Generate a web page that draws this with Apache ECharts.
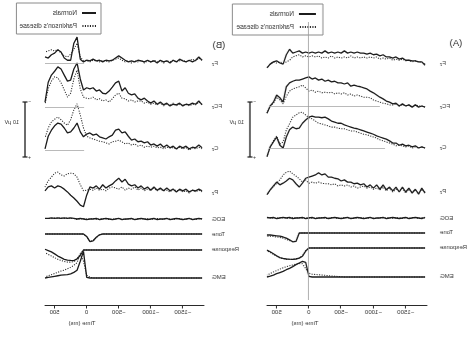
<!DOCTYPE html>
<html>
<head>
<meta charset="utf-8">
<script src="https://cdn.jsdelivr.net/npm/echarts@6/dist/echarts.min.js"></script>
<style>
  html, body { margin: 0; padding: 0; background: #fff; overflow: hidden; }
  /* the figure is shown left-right reversed */
  #chart { width: 474px; height: 337px; transform: scaleX(-1); }
</style>
</head>
<body>
<div id="chart"></div>
<script>
// ---- time base (ms, response at 0) ----
const TIME = [-1800,-1750,-1700,-1650,-1600,-1550,-1500,-1450,-1400,-1350,
              -1300,-1250,-1200,-1150,-1100,-1050,-1000,-950,-900,-850,
              -800,-750,-700,-650,-600,-550,-500,-450,-400,-350,
              -300,-250,-200,-150,-100,-50,0,50,100,150,
              200,250,300,350,400,450,500,550,600,650];
const TICKS = [-1500, -1000, -500, 0, 500];
const SCALE_UV = 10;

// ---- panel A: EEG (µV, negative up) ----
const A_F_N  = [0.4,-0.2,-0.2,-0.4,-0.4,-0.5,-0.5,-0.9,-0.7,-1.1,-0.9,-1.1,-1.1,-1.5,-1.3,-1.6,-1.5,-1.8,-1.6,-1.8,-1.8,-2.0,-1.8,-2.0,-1.8,-2.2,-1.8,-2.0,-1.8,-2.0,-1.8,-2.2,-1.8,-2.0,-1.8,-2.0,-1.8,-2.0,-1.8,-2.2,-2.0,-1.8,-2.5,-1.5,0.2,0,-0.4,-0.2,0.2,0.9];
const A_F_P  = [0.2,-0.2,-0.2,-0.4,-0.2,-0.5,-0.4,-0.7,-0.5,-0.7,-0.5,-0.9,-0.7,-0.9,-0.7,-1.1,-0.9,-1.1,-0.9,-1.1,-0.9,-1.1,-0.9,-1.3,-0.9,-1.1,-0.9,-1.1,-0.9,-1.3,-0.9,-1.1,-0.9,-1.3,-1.1,-1.3,-1.1,-1.3,-1.1,-1.5,-1.3,-1.1,-0.5,-0.2,0,-0.2,0,-0.2,0.2,0.9];
const A_FC_N = [0.2,0,0.2,-0.2,0.2,-0.2,0,-0.4,0,-0.5,-0.4,-0.7,-0.9,-1.3,-1.6,-2.0,-2.4,-2.7,-3.1,-3.3,-3.5,-3.6,-3.8,-3.6,-4.2,-4.0,-4.2,-4.2,-4.5,-4.4,-4.7,-4.5,-4.9,-4.7,-5.1,-4.9,-5.3,-5.1,-4.9,-4.7,-4.7,-4.5,-4.2,-3.5,-0.7,-1.5,-2.0,-0.7,0,1.3];
const A_FC_P = [0.2,0,0,-0.2,0.2,-0.2,0,-0.2,0,-0.4,-0.2,-0.2,-0.4,-0.5,-0.7,-0.9,-1.1,-1.5,-1.6,-1.6,-1.8,-2.0,-1.8,-2.2,-2.0,-2.4,-2.2,-2.4,-2.2,-2.5,-2.4,-2.5,-2.4,-2.7,-2.5,-2.9,-2.7,-3.3,-3.8,-3.5,-3.3,-3.1,-2.7,-1.8,-0.4,-1.1,-1.6,-0.5,0,1.3];
const A_C_N  = [0,-0.2,0,-0.4,-0.2,-0.5,-0.4,-0.7,-0.5,-0.9,-0.9,-1.3,-1.6,-1.8,-2.0,-2.2,-2.5,-2.7,-2.9,-3.1,-3.3,-3.5,-3.6,-3.8,-4.0,-4.2,-4.5,-4.5,-4.7,-4.9,-5.3,-5.6,-5.5,-5.6,-5.6,-5.8,-5.6,-5.1,-4.5,-3.6,-3.5,-3.8,-3.3,-2.0,0,-0.5,-2.0,-1.1,-0.2,1.6];
const A_C_P  = [0,-0.2,0,-0.2,0,-0.4,-0.2,-0.4,-0.5,-0.4,-0.7,-0.9,-1.1,-1.3,-1.5,-1.8,-2.0,-2.2,-2.4,-2.5,-2.7,-2.9,-3.1,-3.1,-3.3,-3.5,-3.5,-3.6,-3.8,-3.8,-4.0,-4.2,-4.4,-4.5,-4.9,-5.3,-5.5,-6.0,-6.5,-6.4,-6.0,-5.6,-4.4,-3.3,-1.1,-0.7,-2.2,-1.3,-0.2,1.5];
const A_P_N  = [0.2,-0.7,0.4,-0.5,0.2,-0.7,0,-0.9,0,-0.9,-0.2,-0.9,-0.4,-1.3,-0.5,-1.3,-0.7,-1.3,-0.9,-1.5,-1.3,-1.6,-1.5,-1.8,-1.8,-2.2,-2.0,-2.4,-2.5,-2.7,-2.7,-3.3,-3.1,-3.5,-3.1,-2.9,-2.7,-2.5,-1.6,-0.9,-1.5,-2.2,-2.5,-2.0,-1.6,-1.3,-1.8,-1.1,-0.4,0.5];
const A_P_P  = [0,-0.5,0.2,-0.4,0,-0.5,0.2,-0.7,-0.2,-0.5,0,-0.7,-0.2,-0.9,-0.4,-0.7,-0.5,-0.9,-0.7,-1.1,-0.9,-0.7,-1.1,-0.9,-1.3,-1.1,-1.3,-1.1,-1.5,-1.3,-1.5,-1.5,-1.6,-1.8,-1.6,-1.8,-1.6,-2.2,-1.8,-2.4,-2.9,-3.3,-3.8,-3.6,-3.1,-2.2,-1.6,-0.9,-0.4,0.5];
// panel A: EOG, tone, response and EMG traces (arbitrary units)
const A_EOG_N  = [0.1,-0.1,0,0.1,0,-0.1,0.1,0,-0.1,0,0.1,0,-0.1,0.1,0,0,-0.1,0.1,0,-0.1,0,0.1,0,-0.1,0.1,0,-0.1,0,0.1,0,-0.1,0.1,0,0,-0.1,0.1,0,-0.1,0.1,0,0,-0.1,0.1,0,0.1,0,-0.1,0.1,0,0.1];
const A_EOG_P  = [0,0.1,-0.1,0,0.1,0,0,-0.1,0.1,0,-0.1,0.1,0,0,0.1,-0.1,0,0.1,-0.1,0,0.1,0,-0.1,0,0,0.1,0,-0.1,0,0.1,0,-0.1,0.1,0,0,-0.1,0.1,0,-0.1,0.1,0,0.1,-0.1,0,0,0.1,0,-0.1,0.1,0];
const A_TONE_N = [0,0,0,0,0,0,0,0,0,0,0,0,0,0,0,0,0,0,0,0,0,0,0,0,0,0,0,0,0,0,0,0,0,0,0,0,0,0,0,0,-1.05,-1.1,-0.85,-0.65,-0.5,-0.4,-0.35,-0.3,-0.25,-0.25];
const A_TONE_P = [0,0,0,0,0,0,0,0,0,0,0,0,0,0,0,0,0,0,0,0,0,0,0,0,0,0,0,0,0,0,0,0,0,0,0,0,0,0,0,-0.05,-1.0,-1.1,-0.95,-0.8,-0.65,-0.55,-0.5,-0.45,-0.4,-0.4];
const A_RESP_N = [1,1,1,1,1,1,1,1,1,1,1,1,1,1,1,1,1,1,1,1,1,1,1,1,1,1,1,1,1,1,1,1,1,1,1,1,1,0.72,0.25,0.08,0,-0.03,-0.02,0,0.05,0.13,0.3,0.48,0.66,0.8];
const A_RESP_P = [1,1,1,1,1,1,1,1,1,1,1,1,1,1,1,1,1,1,1,1,1,1,1,1,1,1,1,1,1,1,1,1,1,1,1,1,1,0.75,0.3,0.1,0.02,-0.03,-0.05,-0.03,0.02,0.1,0.25,0.42,0.6,0.75];
const A_EMG_N  = [0,0,0,0,0,0,0,0,0,0,0,0,0,0,0,0,0,0,0,0,0,0,0,0,0,0,0,0,0,0,0,0,0,0,0,0,0.02,0.52,0.56,0.5,0.44,0.37,0.31,0.26,0.2,0.16,0.12,0.07,0.03,0];
const A_EMG_P  = [0,0,0,0,0,0,0,0,0,0,0,0,0,0,0,0,0,0,0,0,0,0,0,0,0,0,0.01,0.02,0.03,0.04,0.05,0.06,0.07,0.08,0.09,0.1,0.14,0.3,0.47,0.48,0.46,0.43,0.4,0.37,0.33,0.28,0.23,0.18,0.12,0.07];

// ---- panel B: EEG (µV, negative up) ----
const B_F_N  = [-0.5,-1.1,-0.5,-0.2,-0.5,-0.2,-0.4,-0.7,-0.2,-0.5,0,-0.4,-0.2,-0.5,0,-0.4,-0.2,-0.5,-0.2,-0.4,-0.5,-0.2,-0.4,-0.2,-0.5,-0.9,-1.3,-0.9,-0.5,-0.4,-0.5,-0.2,-0.5,-0.4,-0.7,-0.4,-0.5,-0.2,-0.7,-4.7,-3.6,-0.5,-0.5,-0.9,-2.0,-2.4,-1.8,-1.5,-0.9,-1.1];
const B_F_P  = [-0.5,-0.9,-0.4,-0.7,-0.4,-0.2,-0.5,-0.4,-0.2,-0.5,-0.2,-0.4,0,-0.4,-0.2,-0.5,-0.2,-0.4,0,-0.5,-0.2,-0.4,0,-0.4,-0.2,-0.5,-0.9,-0.7,-0.5,-0.2,-0.4,-0.5,-0.2,-0.4,-0.5,-0.2,-0.5,-0.4,-1.1,-3.6,-2.5,-1.6,-1.1,-1.3,-1.8,-2.4,-2.2,-2.4,-2.2,-2.0];
const B_FC_N = [-0.4,-1.1,-0.5,-0.7,-0.4,-0.5,-0.2,-0.7,-0.4,-0.5,-0.2,-0.7,-0.4,-0.9,-0.5,-1.1,-0.7,-1.1,-1.6,-1.3,-1.6,-2.4,-2.2,-2.5,-3.5,-2.9,-4.7,-4.4,-3.6,-2.9,-2.4,-2.5,-3.1,-2.9,-3.5,-3.3,-3.5,-3.1,-5.1,-8.0,-6.9,-4.9,-4.7,-5.8,-6.9,-7.3,-6.5,-5.8,-4.5,-0.9];
const B_FC_P = [-0.5,-0.9,-0.4,-0.5,-0.2,-0.5,-0.4,-0.5,-0.2,-0.7,-0.4,-0.5,-0.2,-0.7,-0.4,-0.7,-0.5,-0.9,-0.7,-1.1,-1.1,-0.9,-1.3,-1.1,-1.5,-1.6,-2.5,-2.2,-1.5,-0.9,-1.3,-1.1,-1.5,-1.3,-1.8,-1.5,-1.6,-1.8,-3.3,-6.7,-5.1,-2.5,-1.8,-3.1,-4.4,-5.3,-5.5,-4.7,-3.3,-0.5];
const B_C_N  = [-0.4,-0.9,-0.4,-0.5,-0.2,-0.7,-0.4,-0.7,-0.2,-0.7,-0.4,-0.9,-0.5,-1.1,-0.7,-1.1,-0.9,-1.5,-1.3,-1.6,-1.5,-2.0,-1.8,-2.5,-3.3,-3.1,-3.8,-3.6,-2.7,-2.4,-2.0,-2.2,-2.4,-2.9,-2.7,-3.1,-2.9,-2.4,-3.3,-4.9,-4.0,-3.3,-3.1,-4.0,-4.7,-4.9,-4.4,-3.6,-2.5,-0.2];
const B_C_P  = [-0.2,-0.5,-0.2,-0.4,0,-0.4,-0.2,-0.5,-0.2,-0.4,-0.4,-0.5,-0.2,-0.5,-0.4,-0.7,-0.5,-0.7,-0.5,-0.9,-0.7,-1.1,-0.9,-1.3,-1.1,-1.5,-1.8,-1.6,-1.5,-1.1,-1.3,-1.5,-1.6,-1.8,-2.0,-2.2,-2.5,-4.0,-6.4,-8.4,-7.3,-5.5,-4.5,-4.9,-5.5,-6.0,-5.6,-5.1,-4.0,-2.2];
const B_P_N  = [-0.4,-0.7,-0.4,-0.5,-0.2,-0.7,-0.4,-0.7,-0.2,-0.7,-0.4,-0.9,-0.4,-0.9,-0.5,-1.1,-0.5,-1.1,-0.7,-1.3,-0.9,-1.5,-1.3,-1.6,-2.5,-2.0,-2.7,-2.2,-1.6,-1.3,-0.9,-1.5,-0.7,-1.3,-0.9,-1.1,0.4,2.5,2.2,1.5,0.9,0.4,-0.2,-0.7,-1.1,-1.3,-0.9,-1.3,-1.1,-0.4];
const B_P_P  = [-0.2,-0.5,-0.2,-0.5,0,-0.4,-0.2,-0.5,-0.4,-0.7,-0.2,-0.5,-0.4,-0.7,-0.4,-0.9,-0.5,-0.7,-0.4,-0.9,-0.5,-1.1,-0.7,-0.9,-0.5,-1.1,-0.7,-0.9,-1.1,-0.9,-0.4,-0.7,-0.5,-0.9,-0.5,-0.7,-0.5,-0.4,-1.5,-2.9,-3.5,-3.6,-3.5,-3.1,-3.3,-3.8,-3.6,-2.9,-2.2,-1.1];
// panel B: EOG, tone, response and EMG traces (arbitrary units)
const B_EOG_N  = [0,0.1,0,-0.1,0.1,0,-0.1,0,0.1,0,-0.1,0.1,0,0,-0.1,0.1,0,-0.1,0,0.1,0,-0.1,0.1,0,0,-0.1,0.1,0,-0.1,0,0.1,0,-0.1,0.1,0,0,-0.1,0,0.1,0,0.1,0.2,0.1,0.2,0.1,0.2,0.1,0.2,0.1,0.1];
const B_EOG_P  = [0.1,0,-0.1,0,0.1,-0.1,0,0.1,0,-0.1,0,0.1,-0.1,0,0.1,0,-0.1,0.1,0,0,0.1,-0.1,0,0.1,-0.1,0,0.1,0,0,-0.1,0,0.1,0,-0.1,0.1,0,0,0.1,0,-0.1,0.1,0.1,0.2,0.1,0.2,0.1,0.2,0.1,0.1,0.1];
const B_TONE_N = [0,0,0,0,0,0,0,0,0,0,0,0,0,0,0,0,0,0,0,0,0,0,0,0,0,0,0,0,0,0,0,0,-0.1,-0.4,-0.85,-0.95,-0.3,0,0,0,0,0,0,0,0,0,0,0,0,0];
const B_TONE_P = [0,0,0,0,0,0,0,0,0,0,0,0,0,0,0,0,0,0,0,0,0,0,0,0,0,0,0,0,0,0,0,0,-0.1,-0.45,-0.85,-0.9,-0.35,0,0,0,0,0,0,0,0,0,0,0,0,0];
const B_RESP_N = [1,1,1,1,1,1,1,1,1,1,1,1,1,1,1,1,1,1,1,1,1,1,1,1,1,1,1,1,1,1,1,1,1,1,1,1,1,1.0,0.5,0.2,0.03,0.05,0.08,0.15,0.3,0.45,0.65,0.83,0.95,1.07];
const B_RESP_P = [1,1,1,1,1,1,1,1,1,1,1,1,1,1,1,1,1,1,1,1,1,1,1,1,1,1,1,1,1,1,1,1,1,1,1,1,1,1.0,0.7,0.15,-0.05,-0.1,-0.1,-0.05,0.05,0.15,0.3,0.45,0.6,0.75];
const B_EMG_N  = [0,0,0,0,0,0,0,0,0,0,0,0,0,0,0,0,0,0,0,0,0,0,0,0,0,0,0,0,0,0,0,0,0,0,0,0,0.02,0.95,0.6,0.28,0.2,0.15,0.12,0.11,0.1,0.08,0.06,0.04,0.02,0];
const B_EMG_P  = [0,0,0,0,0,0,0,0,0,0,0,0,0,0,0,0,0,0,0,0,0,0,0,0,0,0,0,0,0,0,0,0,0,0,0,0.03,0.1,0.6,0.85,0.55,0.45,0.38,0.33,0.28,0.25,0.2,0.16,0.12,0.08,0.04];

const CHANNELS = ['F', 'FC', 'C', 'P', 'EOG', 'Tone', 'Response', 'EMG'];
const CHANNEL_TEXT = {
  F: 'F{s|z}', FC: 'FC{s|z}', C: 'C{s|z}', P: 'P{s|z}',
  EOG: 'EOG', Tone: 'Tone', Response: 'Response', EMG: 'EMG'
};
const GROUPS = ['Normals', "Parkinson's disease"];

const TRACES = {
  A: { F: [A_F_N, A_F_P], FC: [A_FC_N, A_FC_P], C: [A_C_N, A_C_P], P: [A_P_N, A_P_P],
       EOG: [A_EOG_N, A_EOG_P], Tone: [A_TONE_N, A_TONE_P], Response: [A_RESP_N, A_RESP_P], EMG: [A_EMG_N, A_EMG_P] },
  B: { F: [B_F_N, B_F_P], FC: [B_FC_N, B_FC_P], C: [B_C_N, B_C_P], P: [B_P_N, B_P_P],
       EOG: [B_EOG_N, B_EOG_P], Tone: [B_TONE_N, B_TONE_P], Response: [B_RESP_N, B_RESP_P], EMG: [B_EMG_N, B_EMG_P] }
};

// vertical scale of each kind of row: value range, pixels per unit, value sitting on the row line
const ROW_SCALE = {
  eeg:  { min: -9,   max: 3,   px: 5.5, ref: 0, inverse: true },
  EOG:  { min: -2,   max: 2,   px: 5.5, ref: 0 },
  Tone: { min: -1.5, max: 0.5, px: 8,   ref: 0 },
  Response: { min: -0.5, max: 1.5, px: 11, ref: 1 },
  EMG:  { min: -0.1, max: 1.1, px: 28,  ref: 0 }
};
const T_MIN = -1830, T_MAX = 650;

const PANELS = [
  { key: 'A', title: '(A)', titleX: 18, titleY: 43, left: 47, width: 160, labelRight: 34,
    rows: { F: 63, FC: 106, C: 148, P: 192, EOG: 218, Tone: 233, Response: 248, EMG: 277 },
    labels: { F: 63, FC: 106, C: 147, P: 191, EOG: 218, Tone: 232, Response: 247, EMG: 276 },
    baselines: { FC: [-1100, 620], C: [-1180, 625] },
    zeroLine: [22, 300], bar: { x: 224, top: 102 }, timeX: 169,
    legend: { left: 151, top: 4, itemWidth: 17, padding: [6, 4, 4, 6] } },
  { key: 'B', title: '(B)', titleX: 255, titleY: 45, left: 270, width: 159, labelRight: 262,
    rows: { F: 63, FC: 107, C: 150, P: 193, EOG: 219, Tone: 234, Response: 250, EMG: 278 },
    labels: { F: 63, FC: 106, C: 148, P: 192, EOG: 219, Tone: 234, Response: 249, EMG: 277 },
    baselines: { F: [40, 650], FC: [40, 650], C: [40, 650] },
    zeroLine: null, bar: { x: 449, top: 102 }, timeX: 392,
    legend: { left: 373, top: 3, itemWidth: 14, padding: [6, 3, 4, 4] } }
];

const FONT = 'Liberation Sans, Arial, Helvetica, sans-serif';
const INK = '#1c1c1c';

const grid = [], xAxis = [], yAxis = [], series = [], graphic = [], legend = [];

function addGrid(rect, xa, ya) {
  grid.push(Object.assign({ containLabel: false, show: false }, rect));
  const gi = grid.length - 1;
  xAxis.push(Object.assign({ gridIndex: gi }, xa));
  yAxis.push(Object.assign({ gridIndex: gi }, ya));
  return gi;
}
const hiddenTime = { type: 'value', min: T_MIN, max: T_MAX, show: false };

function lineSeries(name, gi, values, dotted) {
  return {
    name: name, type: 'line', xAxisIndex: gi, yAxisIndex: gi,
    data: TIME.map((t, i) => [t, values[i]]),
    showSymbol: false, symbol: 'none', animation: false, silent: true,
    lineStyle: dotted ? { color: '#262626', width: 1.05, type: [1.1, 1.4] }
                      : { color: INK, width: 1.3, type: 'solid' },
    itemStyle: { color: dotted ? '#262626' : INK },
    z: dotted ? 3 : 4
  };
}

PANELS.forEach(p => {
  CHANNELS.forEach(ch => {
    const kind = ['F', 'FC', 'C', 'P'].includes(ch) ? 'eeg' : ch;
    const s = ROW_SCALE[kind];
    const base = p.rows[ch];
    const top = s.inverse ? base - (s.ref - s.min) * s.px : base - (s.max - s.ref) * s.px;
    const gi = addGrid({ left: p.left, width: p.width, top: top, height: (s.max - s.min) * s.px },
      hiddenTime,
      { type: 'value', min: s.min, max: s.max, inverse: !!s.inverse, show: false });
    const [norm, pd] = TRACES[p.key][ch];
    const sn = lineSeries(GROUPS[0], gi, norm, false);
    const span = p.baselines[ch];
    if (span) {
      sn.markLine = {
        silent: true, symbol: 'none', animation: false,
        label: { show: false },
        lineStyle: { color: '#a8a8a8', width: 0.8, type: 'solid' },
        data: [[{ coord: [span[0], s.ref] }, { coord: [span[1], s.ref] }]]
      };
    }
    series.push(sn);
    series.push(lineSeries(GROUPS[1], gi, pd, true));

    graphic.push({
      type: 'text', x: p.labelRight, y: p.labels[ch], silent: true,
      style: {
        text: CHANNEL_TEXT[ch], align: 'right', verticalAlign: 'middle',
        fontFamily: FONT, fontSize: 6, fill: '#333',
        rich: { s: { fontSize: 4.5, fontFamily: FONT, fill: '#333', padding: [4, 0, 0, 0] } }
      }
    });
  });

  // time axis
  addGrid({ left: p.left, width: p.width, top: 296, height: 9.5 },
    {
      type: 'value', min: T_MIN, max: T_MAX, position: 'bottom',
      axisLine: { show: true, lineStyle: { color: '#2a2a2a', width: 1 } },
      axisTick: { show: true, customValues: TICKS, length: 3, lineStyle: { color: '#2a2a2a', width: 1 } },
      axisLabel: { show: true, customValues: TICKS, fontSize: 6, margin: 4, color: '#333',
                   fontFamily: FONT, formatter: v => String(v).replace('-', '\u2212') },
      splitLine: { show: false }
    },
    { type: 'value', min: 0, max: 1, show: false });

  graphic.push({
    type: 'text', x: p.timeX, y: 323, silent: true,
    style: { text: 'Time (ms)', align: 'center', verticalAlign: 'middle', fontFamily: FONT, fontSize: 6, fill: '#333' }
  });

  // response-time marker
  if (p.zeroLine) {
    const gi = addGrid({ left: p.left, width: p.width, top: p.zeroLine[0], height: p.zeroLine[1] - p.zeroLine[0] },
      hiddenTime, { type: 'value', min: 0, max: 1, show: false });
    series.push({
      type: 'line', xAxisIndex: gi, yAxisIndex: gi, data: [], silent: true, animation: false,
      markLine: {
        silent: true, symbol: 'none', animation: false, label: { show: false },
        lineStyle: { color: '#9a9a9a', width: 0.8, type: 'solid' },
        data: [{ xAxis: 0 }]
      }
    });
  }

  // 10 µV calibration bar
  const bgi = addGrid({ left: p.bar.x - 5, width: 10, top: p.bar.top, height: SCALE_UV * ROW_SCALE.eeg.px },
    { type: 'value', min: -1, max: 1, show: false },
    { type: 'value', min: -SCALE_UV, max: 0, inverse: true, show: false });
  series.push({
    type: 'line', xAxisIndex: bgi, yAxisIndex: bgi, silent: true, animation: false,
    data: [[0, 0], [0, -SCALE_UV]],
    symbol: 'rect', symbolSize: [5, 1.2], showSymbol: true,
    lineStyle: { color: INK, width: 1.3 }, itemStyle: { color: INK }
  });
  graphic.push(
    { type: 'text', x: p.bar.x - 3, y: p.bar.top, silent: true,
      style: { text: '\u2212', align: 'right', verticalAlign: 'middle', fontFamily: FONT, fontSize: 5, fill: '#333' } },
    { type: 'text', x: p.bar.x - 3, y: p.bar.top + SCALE_UV * ROW_SCALE.eeg.px + 1, silent: true,
      style: { text: '+', align: 'right', verticalAlign: 'middle', fontFamily: FONT, fontSize: 5, fill: '#333' } },
    { type: 'text', x: p.bar.x + 6, y: 122.5, silent: true,
      style: { text: SCALE_UV + ' \u03bcV', align: 'left', verticalAlign: 'middle', fontFamily: FONT, fontSize: 5.5, fill: '#333' } },
    { type: 'text', x: p.titleX, y: p.titleY, silent: true,
      style: { text: p.title, align: 'center', verticalAlign: 'middle', fontFamily: FONT, fontSize: 9.5, fill: '#2a2a2a' } }
  );

  legend.push({
    show: true, orient: 'vertical', left: p.legend.left, top: p.legend.top,
    data: GROUPS.map(n => ({ name: n })),
    itemWidth: p.legend.itemWidth, itemHeight: 8, itemGap: 5,
    padding: p.legend.padding, borderColor: '#8a8a8a', borderWidth: 1,
    selectedMode: false,
    // line sample only, no marker dot
    itemStyle: { opacity: 0 },
    textStyle: { fontSize: 6.5, color: '#333', fontFamily: FONT, lineHeight: 8 }
  });
});

const chart = echarts.init(document.getElementById('chart'), null, { renderer: 'canvas' });
chart.setOption({
  backgroundColor: '#fff',
  animation: false,
  grid: grid, xAxis: xAxis, yAxis: yAxis,
  series: series, legend: legend, graphic: graphic
});
</script>
</body>
</html>
